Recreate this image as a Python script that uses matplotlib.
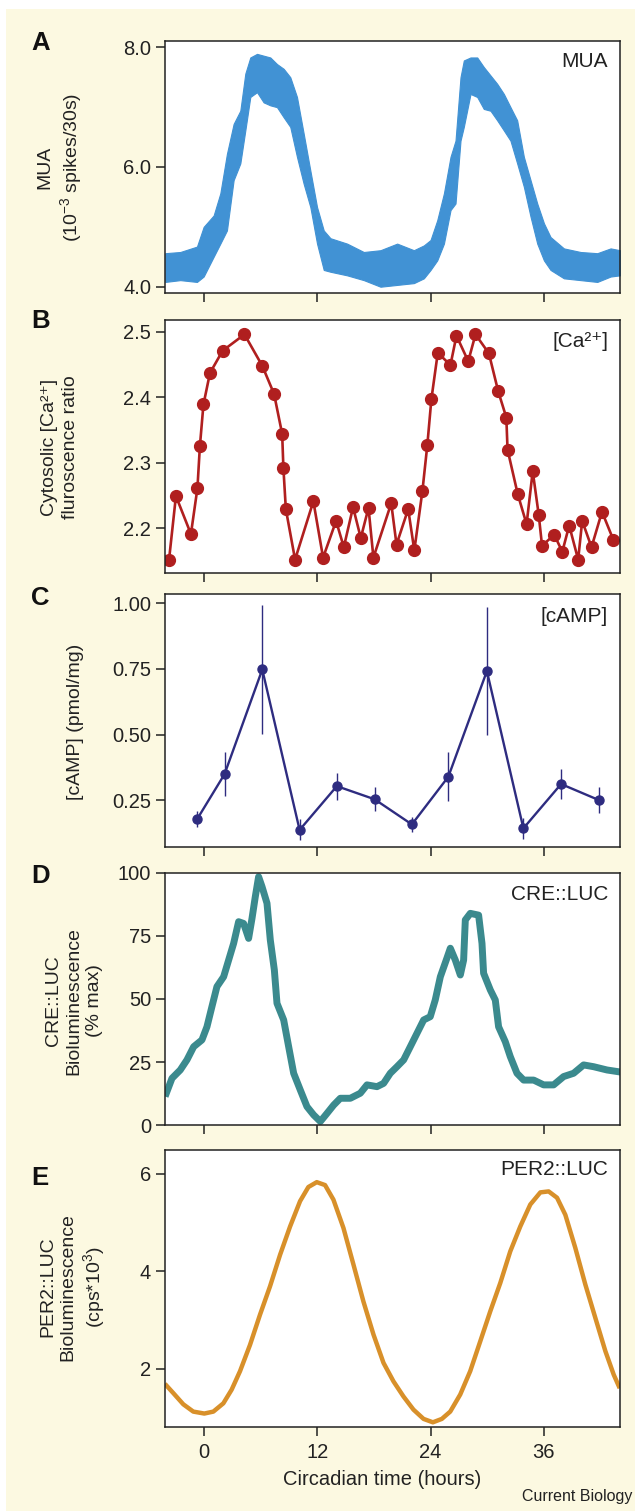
import numpy as np
import matplotlib
matplotlib.use("Agg")
import matplotlib.pyplot as plt
from matplotlib.patches import Rectangle

plt.rcParams['font.family'] = ['Liberation Sans', 'DejaVu Sans']
plt.rcParams['mathtext.default'] = 'regular'

# --- data ---------------------------------------------------------------
# A: multi-unit activity band (lower / upper envelope)
mua_t = [-4.14, -2.55, -0.78, -0.07, 0.99, 1.70, 2.40, 3.11, 3.82, 4.35, 4.88,
         5.59, 6.29, 7.00, 7.71, 8.42, 9.12, 9.83, 10.54, 11.25, 11.96, 12.67,
         13.38, 15.15, 16.92, 18.69, 20.46, 22.23, 23.29, 24.0, 24.71, 25.42,
         26.12, 26.65, 27.18, 27.53, 28.24, 28.95, 29.65, 30.36, 31.07, 31.78,
         32.48, 33.19, 33.90, 34.61, 35.32, 36.03, 36.73, 38.15, 39.92, 41.69,
         43.1, 44.1]
mua_hi = [4.56, 4.58, 4.67, 5.00, 5.19, 5.56, 6.22, 6.72, 6.94, 7.56, 7.83,
          7.89, 7.86, 7.83, 7.72, 7.64, 7.50, 7.17, 6.56, 5.94, 5.33, 4.94,
          4.81, 4.72, 4.58, 4.61, 4.72, 4.61, 4.69, 4.78, 5.11, 5.56,
          6.17, 6.44, 7.50, 7.78, 7.83, 7.83, 7.67, 7.53, 7.39, 7.22,
          7.00, 6.78, 6.17, 5.78, 5.39, 5.06, 4.83, 4.64, 4.58, 4.56,
          4.64, 4.61]
mua_lo = [4.08, 4.11, 4.08, 4.17, 4.50, 4.72, 4.94, 5.78, 6.06, 6.61, 7.17,
          7.25, 7.08, 7.03, 7.00, 6.83, 6.67, 6.17, 5.72, 5.33, 4.72, 4.28,
          4.25, 4.19, 4.11, 4.00, 4.03, 4.06, 4.14, 4.28, 4.44, 4.72,
          5.28, 5.39, 6.44, 6.67, 7.22, 7.17, 6.97, 6.94, 6.78, 6.61,
          6.44, 6.06, 5.67, 5.17, 4.72, 4.44, 4.28, 4.14, 4.11, 4.08,
          4.17, 4.19]

# B: cytosolic calcium
ca_t = [-3.74, -3.01, -1.42, -0.73, -0.47, -0.09, 0.60, 1.94, 4.26, 6.15, 7.40,
        8.26, 8.39, 8.65, 9.63, 11.57, 12.60, 13.98, 14.80, 15.78, 16.60, 17.42,
        17.94, 19.83, 20.39, 21.63, 22.28, 23.14, 23.66, 24.09, 24.77, 26.11,
        26.75, 28.00, 28.77, 30.19, 31.18, 32.04, 32.17, 33.25, 34.19, 34.84,
        35.48, 35.83, 37.12, 37.98, 38.71, 39.66, 40.09, 41.08, 42.19, 43.40]
ca_v = [2.152, 2.249, 2.191, 2.261, 2.325, 2.389, 2.437, 2.471, 2.496, 2.448,
        2.405, 2.344, 2.292, 2.229, 2.152, 2.241, 2.155, 2.211, 2.171, 2.232,
        2.185, 2.231, 2.155, 2.238, 2.175, 2.229, 2.166, 2.257, 2.327, 2.397,
        2.468, 2.449, 2.494, 2.455, 2.496, 2.467, 2.409, 2.369, 2.320, 2.252,
        2.206, 2.287, 2.220, 2.173, 2.190, 2.164, 2.204, 2.152, 2.211, 2.171,
        2.225, 2.182]

# C: cAMP with error bars
camp_t = [-0.73, 2.15, 6.15, 10.11, 14.06, 18.06, 22.02, 25.89, 29.98, 33.85,
          37.85, 41.85]
camp_v = [0.179, 0.349, 0.748, 0.136, 0.303, 0.253, 0.157, 0.339, 0.742, 0.142,
          0.311, 0.250]
camp_err = [0.030, 0.083, 0.245, 0.040, 0.052, 0.046, 0.030, 0.094, 0.245,
            0.041, 0.058, 0.050]

# D: CRE::LUC bioluminescence
cre_t = [-4.03, -3.43, -2.55, -1.84, -1.13, -0.25, 0.28, 0.81, 1.34, 2.05, 2.58,
         3.11, 3.64, 4.17, 4.70, 5.06, 5.41, 5.76, 6.12, 6.65, 7.00, 7.43, 7.71,
         8.42, 8.95, 9.48, 10.18, 10.89, 11.60, 12.31, 13.01, 13.72, 14.43,
         15.49, 16.55, 17.26, 18.32, 19.02, 19.73, 20.44, 21.15, 21.85, 22.56,
         23.27, 23.97, 24.50, 25.04, 25.74, 26.10, 26.63, 27.16, 27.51, 27.69,
         28.22, 29.10, 29.46, 29.63, 30.34, 30.87, 31.22, 31.93, 32.46, 33.17,
         33.88, 34.94, 36.0, 37.06, 38.12, 39.18, 40.24, 41.30, 42.72, 43.95]
cre_v = [12.7, 18.6, 21.9, 25.9, 31.1, 33.8, 39.0, 47.0, 54.9, 58.8, 65.4,
         72.0, 80.6, 79.9, 74.0, 81.9, 90.5, 98.4, 94.5, 87.9, 73.4, 61.5, 48.3,
         41.7, 31.1, 20.6, 14.0, 7.4, 4.1, 1.5, 4.7, 8.0, 10.7,
         10.7, 12.7, 16.0, 15.3, 16.6, 20.6, 23.2, 25.9, 31.1, 36.4,
         41.7, 43.0, 49.6, 58.8, 66.2, 70.1, 65.4, 59.5, 65.4, 81.3,
         83.9, 83.2, 72.0, 60.2, 53.6, 49.6, 39.0, 33.1, 27.2, 20.6,
         17.9, 17.9, 16.0, 16.0, 19.3, 20.6, 23.9, 23.2, 21.9, 21.2]

# E: PER2::LUC bioluminescence
per_t = [-4.18, -3.29, -2.23, -1.17, 0.0, 0.96, 2.02, 2.90, 3.79, 4.85, 5.91,
         6.97, 8.04, 9.10, 10.16, 11.04, 11.93, 12.81, 13.70, 14.76, 15.82,
         16.88, 17.95, 19.01, 20.07, 21.13, 22.19, 23.26, 24.25, 25.20, 26.09,
         27.15, 28.21, 29.27, 30.34, 31.40, 32.46, 33.52, 34.58, 35.65, 36.53,
         37.42, 38.30, 39.36, 40.42, 41.49, 42.55, 43.43, 44.07]
per_v = [1.69, 1.50, 1.27, 1.12, 1.08, 1.12, 1.29, 1.57, 1.95, 2.49, 3.11,
         3.69, 4.34, 4.92, 5.44, 5.73, 5.83, 5.77, 5.47, 4.89, 4.14,
         3.38, 2.70, 2.12, 1.74, 1.43, 1.16, 0.97, 0.90, 0.97, 1.12,
         1.47, 1.95, 2.56, 3.18, 3.76, 4.41, 4.92, 5.37, 5.62, 5.64,
         5.51, 5.16, 4.48, 3.73, 3.04, 2.36, 1.88, 1.60]

x_ticks = [0, 12, 24, 36]

# --- layout (pixels) -------------------------------------------------------
W, H = 635, 1511
ink = '#222222'


def px_box(left, top, right, bottom):
    return [left / W, 1 - bottom / H, (right - left) / W, (bottom - top) / H]


def fx(x):
    return x / W


def fy(y):
    return 1 - y / H


fig = plt.figure(figsize=(W / 100, H / 100), dpi=100)
fig.patch.set_facecolor('white')
fig.patches.append(Rectangle((fx(6), 0), 1 - fx(6), fy(9), transform=fig.transFigure,
                             facecolor='#fcf9e1', edgecolor='none', zorder=-10))

boxes = [(165, 40.7, 620, 293.3), (165, 320, 620, 573.3), (165, 594, 620, 846.7),
         (165, 872.7, 620, 1125.3), (165, 1150, 620, 1426.7)]
axes = [fig.add_axes(px_box(*b)) for b in boxes]

for ax in axes:
    ax.set_facecolor('white')
    ax.set_xlim(-4.17, 44.1)
    ax.set_xticks(x_ticks)
    for s in ax.spines.values():
        s.set_color(ink)
        s.set_linewidth(1.1)
    ax.tick_params(direction='out', length=6.5, width=1.1, color=ink,
                   labelsize=14.5, labelcolor=ink, pad=3.5)
    ax.tick_params(axis='x', pad=5)
for ax in axes[:-1]:
    ax.set_xticklabels([])

# A
axA = axes[0]
axA.fill_between(mua_t, mua_lo, mua_hi, color='#4192d4', lw=0.8, edgecolor='#4192d4')
axA.set_ylim(3.89, 8.11)
axA.set_yticks([4.0, 6.0, 8.0])
axA.set_yticklabels(['4.0', '6.0', '8.0'])

# B
axB = axes[1]
axB.plot(ca_t, ca_v, '-o', color='#b01f1f', lw=1.9, ms=8.5)
axB.set_ylim(2.131, 2.518)
axB.set_yticks([2.2, 2.3, 2.4, 2.5])

# C
axC = axes[2]
axC.errorbar(camp_t, camp_v, yerr=camp_err, fmt='-o', color='#2e2c80', lw=1.7,
             ms=6.5, elinewidth=1.0, capsize=0)
axC.set_ylim(0.072, 1.036)
axC.set_yticks([0.25, 0.5, 0.75, 1.0])
axC.set_yticklabels(['0.25', '0.50', '0.75', '1.00'])

# D
axD = axes[3]
axD.plot(cre_t, cre_v, color='#3b8a8e', lw=5)
axD.set_ylim(0, 100)
axD.set_yticks([0, 25, 50, 75, 100])

# E
axE = axes[4]
axE.plot(per_t, per_v, color='#d8902a', lw=3.2, solid_capstyle='butt')
axE.set_ylim(0.81, 6.49)
axE.set_yticks([2, 4, 6])

# panel letters
for letter, base in zip('ABCDE', [50, 328, 605, 883, 1185]):
    fig.text(fx(31), fy(base), letter, fontsize=18.5, fontweight='bold',
             color='#111111', va='baseline', ha='left')

# in-panel names
names = ['MUA', '[Ca²⁺]', '[cAMP]', 'CRE::LUC', 'PER2::LUC']
for name, base in zip(names, [67, 347, 622, 900, 1175]):
    fig.text(fx(608), fy(base), name, fontsize=15, color=ink, ha='right', va='baseline')

# y labels
ylabels = [('MUA\n(10$^{-3}$ spikes/30s)', 60, 167),
           ('Cytosolic [Ca²⁺]\nfluroscence ratio', 60, 447),
           ('[cAMP] (pmol/mg)', 75, 722),
           ('CRE::LUC\nBioluminescence\n(% max)', 74, 1001),
           ('PER2::LUC\nBioluminescence\n(cps*10$^{3}$)', 73, 1287)]
for txt, x, y in ylabels:
    fig.text(fx(x), fy(y), txt, fontsize=14, color=ink, rotation=90,
             ha='center', va='center', multialignment='center', linespacing=1.25)

fig.text(fx(382), fy(1485), 'Circadian time (hours)', fontsize=14.5, color=ink,
         ha='center', va='baseline')
fig.text(fx(632), fy(1501), 'Current Biology', fontsize=11.5, color=ink,
         ha='right', va='baseline')

fig.savefig('out.png', dpi=100, facecolor=fig.get_facecolor())
